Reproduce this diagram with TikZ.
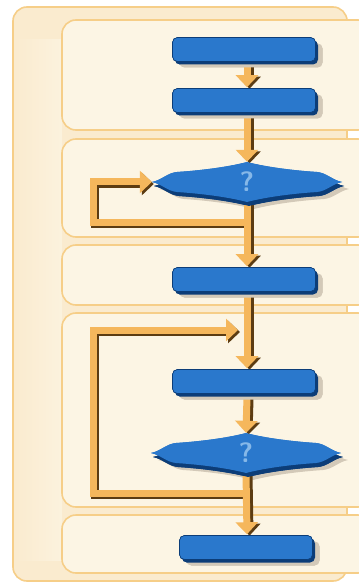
\documentclass[tikz,border=0pt]{standalone}
\usetikzlibrary{arrows.meta,shadows,calc}
\definecolor{panelfill}{HTML}{FCF5E4}
\definecolor{panelline}{HTML}{F6CE88}
\definecolor{outerfill}{HTML}{FAEBCF}
\definecolor{bluemain}{HTML}{2A78CC}
\definecolor{bluedark}{HTML}{0C3D78}
\definecolor{bluelight}{HTML}{86B8E8}
\definecolor{shadowgray}{HTML}{D3C9B8}
\definecolor{arroworange}{HTML}{F5B75C}
\definecolor{arrowshadow}{HTML}{5C3C12}
\tikzset{
  panel/.style={draw=panelline, line width=1.6pt, fill=panelfill, rounded corners=14pt},
  bluebox/.style={rectangle, rounded corners=5pt, fill=bluemain, draw=bluedark, line width=0.6pt,
    minimum width=143pt, minimum height=24pt, inner sep=0pt,
    drop shadow={shadow xshift=7pt, shadow yshift=-6pt, fill=shadowgray, opacity=1},
    copy shadow={shadow xshift=2.5pt, shadow yshift=-3pt, fill=bluedark, draw=none}},
  decbox/.style={minimum width=190pt, minimum height=40pt, inner sep=0pt, text=bluelight,
    font=\sffamily\bfseries\fontsize{28}{28}\selectfont},
  flowshadow/.style={draw=arrowshadow, line width=8pt, -{Triangle[width=22pt,length=12pt]}},
  flow/.style={draw=arroworange, line width=7pt, -{Triangle[width=22pt,length=12pt]}},
  flowline/.style={draw=arroworange, line width=7pt},
  flowlineshadow/.style={draw=arrowshadow, line width=8pt},
}
\newcommand{\decpath}{(-95,0) .. controls (-85,-2) and (-80,-9) .. (-70,-10) .. controls (-40,-12) and (-15,-16) .. (0,-20) .. controls (15,-16) and (40,-12) .. (70,-10) .. controls (80,-9) and (85,-2) .. (95,0) .. controls (85,2) and (80,9) .. (70,10) .. controls (40,12) and (15,16) .. (0,20) .. controls (-15,16) and (-40,12) .. (-70,10) .. controls (-80,9) and (-85,2) .. (-95,0) -- cycle}
\begin{document}
\begin{tikzpicture}[x=1pt,y=-1pt]
\useasboundingbox (0,0) rectangle (358,585);
\fill[white] (0,0) rectangle (358,585);
% outer panel
\path[panel, fill=outerfill] (13,7) rectangle (347,581);
\fill[left color=outerfill, right color=panelfill!70!outerfill] (15,40) rectangle (62,560);
% inner panels
\path[panel] (62,20) rectangle (372,130);
\path[panel] (62,139) rectangle (372,237);
\path[panel] (62,245) rectangle (372,305);
\path[panel] (62,313) rectangle (372,507);
\path[panel] (62,515) rectangle (372,573);

% nodes
\node[bluebox] (b1) at (244,49.5) {};
\node[bluebox] (b2) at (244,100.5) {};
\node[decbox] (d1) at (247,182) {};
\node[bluebox] (b3) at (244,279.5) {};
\node[bluebox] (b4) at (244,381.5) {};
\node[decbox] (d2) at (246,453) {};
\node[bluebox, minimum width=133pt] (b5) at (246,547.5) {};

% decision shapes
\foreach \d in {d1,d2}{
  \begin{scope}[shift={(\d.center)}]
    \fill[shadowgray] [shift={(7,7)}] \decpath;
    \fill[bluedark] [shift={(2,4)}] \decpath;
    \fill[bluemain] \decpath;
  \end{scope}
  \node[decbox] at (\d.center) {?};
}

% coordinates
\coordinate (j1) at (247,222);
\coordinate (l1a) at (93,222);
\coordinate (l1b) at (93,182);
\coordinate (j2) at (246,493);
\coordinate (l2a) at (93,493);
\coordinate (l2b) at (93,330);
\coordinate (j3) at (238,330);

% loops (shadow then orange)
\begin{scope}[transform canvas={xshift=2pt,yshift=-2pt}]
  \draw[flowlineshadow] (j1) -- (l1a) -- (l1b) -- ($(d1.west)+(-25,0)$);
  \draw[flowshadow] ($(d1.west)+(-26,0)$) -- ($(d1.west)+(0,0)$);
  \draw[flowlineshadow] (j2) -- (l2a) -- (l2b) -- ($(j3)+(-25,0)$);
  \draw[flowshadow] ($(j3)+(-26,0)$) -- (j3);
\end{scope}
\draw[flowline] (j1) -- (l1a) -- (l1b) -- ($(d1.west)+(-20,0)$);
\draw[flow] ($(d1.west)+(-22,0)$) -- ($(d1.west)+(0,0)$);
\draw[flowline] (j2) -- (l2a) -- (l2b) -- ($(j3)+(-20,0)$);
\draw[flow] ($(j3)+(-22,0)$) -- (j3);

% vertical arrows
\begin{scope}[transform canvas={xshift=2.5pt,yshift=-1.5pt}]
  \draw[flowshadow] ($(b1.south)+(3,3)$) -- ($(b2.north)+(3,-1)$);
  \draw[flowshadow] ($(b2.south)+(3,3)$) -- ($(d1.north)+(0,0)$);
  \draw[flowshadow] ($(d1.south)+(0,0)$) -- ($(b3.north)+(3,-1)$);
  \draw[flowshadow] ($(b3.south)+(3,3)$) -- ($(b4.north)+(3,-1)$);
  \draw[flowshadow] ($(b4.south)+(3,3)$) -- ($(d2.north)+(0,0)$);
  \draw[flowshadow] ($(d2.south)+(0,0)$) -- ($(b5.north)+(1,-1)$);
\end{scope}
\draw[flow] ($(b1.south)+(3,3)$) -- ($(b2.north)+(3,-1)$);
\draw[flow] ($(b2.south)+(3,3)$) -- ($(d1.north)+(0,0)$);
\draw[flow] ($(d1.south)+(0,0)$) -- ($(b3.north)+(3,-1)$);
\draw[flow] ($(b3.south)+(3,3)$) -- ($(b4.north)+(3,-1)$);
\draw[flow] ($(b4.south)+(3,3)$) -- ($(d2.north)+(0,0)$);
\draw[flow] ($(d2.south)+(0,0)$) -- ($(b5.north)+(1,-1)$);

% redraw boxes on top
\foreach \b in {b1,b2,b3,b4}{
  \node[bluebox] at (\b.center) {};
}
\node[bluebox, minimum width=133pt] at (b5.center) {};
\foreach \d in {d1,d2}{
  \begin{scope}[shift={(\d.center)}]
    \fill[bluedark] [shift={(2,4)}] \decpath;
    \fill[bluemain] \decpath;
  \end{scope}
  \node[decbox] at (\d.center) {?};
}
\end{tikzpicture}
\end{document}
